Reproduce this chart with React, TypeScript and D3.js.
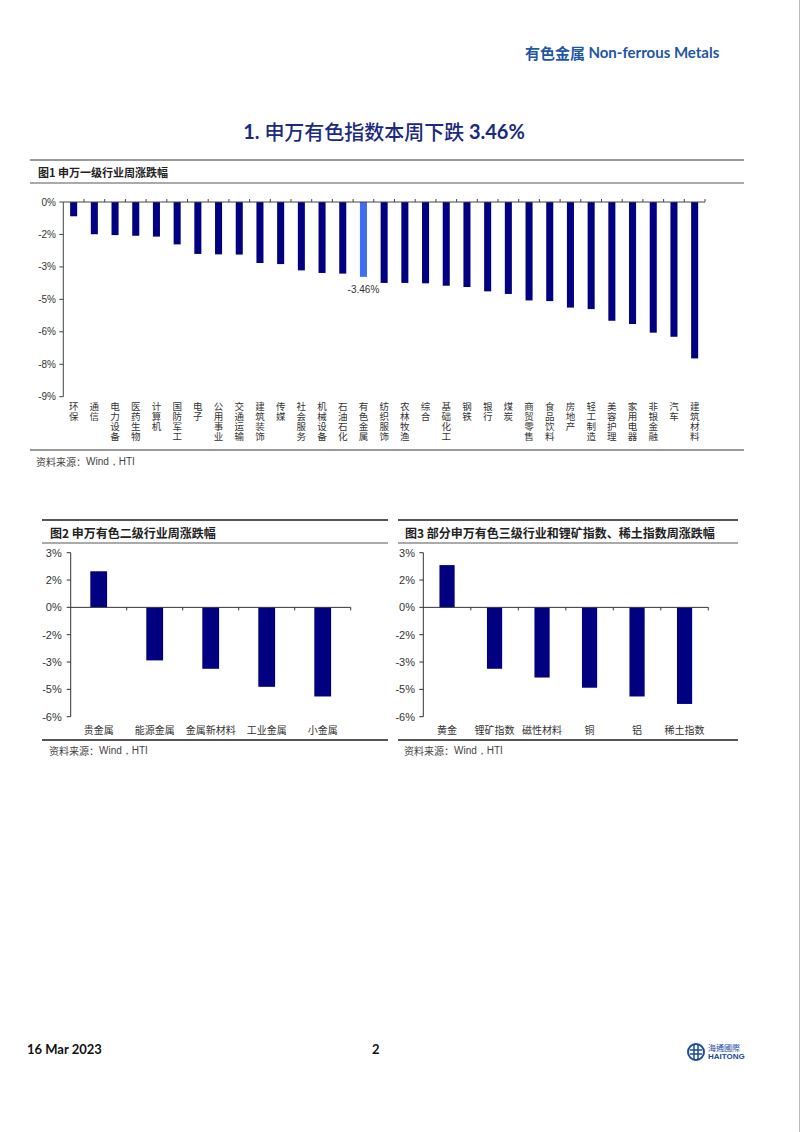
import React from "react";
import * as d3 from "d3";

// ---------- data ----------
const categories1 = ["环保","通信","电力设备","医药生物","计算机","国防军工","电子","公用事业","交通运输","建筑装饰","传媒","社会服务","机械设备","石油石化","有色金属","纺织服饰","农林牧渔","综合","基础化工","钢铁","银行","煤炭","商贸零售","食品饮料","房地产","轻工制造","美容护理","家用电器","非银金融","汽车","建筑材料"];
const values1 = [-0.66,-1.49,-1.53,-1.56,-1.6,-1.96,-2.4,-2.42,-2.43,-2.82,-2.87,-3.16,-3.28,-3.31,-3.46,-3.74,-3.74,-3.76,-3.87,-3.93,-4.13,-4.25,-4.55,-4.58,-4.88,-4.95,-5.49,-5.64,-6.04,-6.23,-7.23];
const highlight1 = "有色金属";
const highlightLabel1 = "-3.46%";
const ticks1 = [0,-1.5,-3,-4.5,-6,-7.5,-9];
const tickLabels1 = ["0%","-2%","-3%","-5%","-6%","-8%","-9%"];

const categories2 = ["贵金属","能源金属","金属新材料","工业金属","小金属"];
const values2 = [1.98,-2.91,-3.37,-4.36,-4.89];
const categories3 = ["黄金","锂矿指数","磁性材料","铜","铝","稀土指数"];
const values3 = [2.32,-3.37,-3.85,-4.41,-4.89,-5.3];
const ticks23 = [3,1.5,0,-1.5,-3,-4.5,-6];
const tickLabels23 = ["3%","2%","0%","-2%","-3%","-5%","-6%"];

const NAVY = "#000080";
const HL = "#3E6FF2";
const CJK = "'Noto Sans CJK SC', 'Noto Sans', sans-serif";
const LAT = "'Liberation Sans', Arial, sans-serif";

function SmallBar(props: {
  cats: string[]; vals: number[]; x0: number; x1: number; yTop: number; yBot: number;
  pad: number; labelRight: number; title: string; lineX0: number; lineX1: number; titleX: number;
}) {
  const { cats, vals, x0, x1, yTop, yBot, pad, labelRight, title, lineX0, lineX1, titleX } = props;
  const x = d3.scaleBand<string>().domain(cats).range([x0, x1]).paddingInner(pad).paddingOuter(pad / 2);
  const y = d3.scaleLinear().domain([-6, 3]).range([yBot, yTop]);
  const step = x.step();
  return (
    <g>
      <line x1={lineX0} x2={lineX1} y1={520} y2={520} stroke="#555" strokeWidth={2} />
      <text x={titleX} y={532} dominantBaseline="central" fontFamily={CJK} fontWeight={700} fontSize={12} fill="#222">{title}</text>
      <line x1={lineX0} x2={lineX1} y1={543} y2={543} stroke="#aaa" strokeWidth={2} />
      <line x1={x0} x2={x0} y1={yTop} y2={yBot} stroke="#333" strokeWidth={1} />
      {ticks23.map((t, i) => (
        <g key={i}>
          <line x1={x0 - 4} x2={x0} y1={y(t)} y2={y(t)} stroke="#333" />
          <text x={labelRight} y={y(t)} dominantBaseline="central" textAnchor="end" fontFamily={LAT} fontSize={11} fill="#333">{tickLabels23[i]}</text>
        </g>
      ))}
      {cats.map((c, i) => {
        const v = vals[i];
        return (
          <rect key={c} x={x(c)!} width={x.bandwidth()} y={Math.min(y(v), y(0))} height={Math.abs(y(v) - y(0))} fill={NAVY} />
        );
      })}
      <line x1={x0} x2={x1} y1={y(0)} y2={y(0)} stroke="#333" strokeWidth={1} />
      {cats.map((c, i) => (
        <line key={"t" + i} x1={x0 + step * (i + 1)} x2={x0 + step * (i + 1)} y1={y(0)} y2={y(0) + 3} stroke="#333" />
      ))}
      {cats.map((c) => (
        <text key={"l" + c} x={x(c)! + x.bandwidth() / 2} y={729} textAnchor="middle" dominantBaseline="central" fontFamily={CJK} fontSize={10} fill="#333">{c}</text>
      ))}
      <line x1={lineX0} x2={lineX1} y1={740} y2={740} stroke="#555" strokeWidth={2} />
      <text x={titleX - 1} y={750} dominantBaseline="central" fontSize={10} fill="#444">
        <tspan fontFamily={CJK}>资料来源：</tspan><tspan fontFamily={LAT}>Wind，HTI</tspan>
      </text>
    </g>
  );
}

export default function App() {
  const W = 802, H = 1132;
  const x1 = d3.scaleBand<string>().domain(categories1).range([63.3, 705]).paddingInner(0.66).paddingOuter(0.33);
  const y1 = d3.scaleLinear().domain([-9, 0]).range([396.7, 202]);
  const step1 = x1.step();
  return (
    <div style={{ position: "absolute", left: 0, top: 0 }}>
      <svg width={W} height={H} style={{ display: "block", background: "#fff" }}>
        <rect x={0} y={0} width={W} height={H} fill="#fff" />
        <line x1={799.5} x2={799.5} y1={0} y2={H} stroke="#bbb" strokeWidth={1} />
        {/* header */}
        <text x={525} y={52} dominantBaseline="central" fill="#1F56A5" fontSize={15} fontWeight={700}>
          <tspan fontFamily={CJK}>有色金属 </tspan><tspan fontFamily="Lato, 'Open Sans', sans-serif">Non-ferrous Metals</tspan>
        </text>
        {/* title */}
        <text x={384} y={131} dominantBaseline="central" textAnchor="middle" fill="#1B2A80" fontSize={20} fontWeight={700}>
          <tspan fontFamily="Lato, sans-serif">1.  </tspan><tspan fontFamily={CJK} fontWeight={500}>申万有色指数本周下跌 </tspan><tspan fontFamily="Lato, sans-serif">3.46%</tspan>
        </text>
        {/* figure 1 */}
        <line x1={30} x2={744} y1={160} y2={160} stroke="#999" strokeWidth={2} />
        <text x={38} y={172} dominantBaseline="central" fontFamily={CJK} fontWeight={700} fontSize={11} fill="#222">图1 申万一级行业周涨跌幅</text>
        <line x1={30} x2={744} y1={183} y2={183} stroke="#aaa" strokeWidth={2} />
        <line x1={63.3} x2={63.3} y1={202} y2={396.7} stroke="#444" />
        {ticks1.map((t, i) => (
          <g key={i}>
            <line x1={59.3} x2={63.3} y1={y1(t)} y2={y1(t)} stroke="#444" />
            <text x={56} y={y1(t)} textAnchor="end" dominantBaseline="central" fontFamily={LAT} fontSize={10} fill="#333">{tickLabels1[i]}</text>
          </g>
        ))}
        {categories1.map((c, i) => (
          <rect key={c} x={x1(c)!} width={x1.bandwidth()} y={y1(0)} height={y1(values1[i]) - y1(0)} fill={c === highlight1 ? HL : NAVY} />
        ))}
        <line x1={63.3} x2={705} y1={y1(0)} y2={y1(0)} stroke="#444" />
        {categories1.map((c, i) => (
          <line key={"t" + i} x1={63.3 + step1 * (i + 1)} x2={63.3 + step1 * (i + 1)} y1={y1(0) - 3} y2={y1(0)} stroke="#444" />
        ))}
        {categories1.map((c) => (
          <text key={"l" + c} x={x1(c)! + x1.bandwidth() / 2} y={402}
            style={{ writingMode: "vertical-rl", textOrientation: "upright" } as any}
            fontFamily={CJK} fontSize={9.5} letterSpacing={0.5} fill="#333">{c}</text>
        ))}
        <text x={x1(highlight1)! + x1.bandwidth() / 2} y={y1(values1[categories1.indexOf(highlight1)]) + 13} textAnchor="middle" dominantBaseline="central" fontFamily={LAT} fontSize={10} fill="#333">{highlightLabel1}</text>
        <line x1={30} x2={744} y1={450} y2={450} stroke="#999" strokeWidth={2} />
        <text x={36} y={461} dominantBaseline="central" fontSize={10} fill="#444">
          <tspan fontFamily={CJK}>资料来源：</tspan><tspan fontFamily={LAT}>Wind，HTI</tspan>
        </text>
        {/* figure 2 */}
        <SmallBar cats={categories2} vals={values2} x0={70.7} x1={350.7} yTop={552.7} yBot={716.7} pad={0.7}
          labelRight={61.7} title="图2  申万有色二级行业周涨跌幅" lineX0={42} lineX1={388} titleX={50} />
        {/* figure 3 */}
        <SmallBar cats={categories3} vals={values3} x0={423.3} x1={708.3} yTop={552.7} yBot={716.7} pad={0.68}
          labelRight={415} title="图3  部分申万有色三级行业和锂矿指数、稀土指数周涨跌幅" lineX0={398} lineX1={738} titleX={405} />
        {/* footer */}
        <text x={27} y={1049} dominantBaseline="central" fontFamily="Lato, sans-serif" fontWeight={700} fontSize={13} fill="#111">16 Mar 2023</text>
        <text x={372} y={1049} dominantBaseline="central" fontFamily="Lato, sans-serif" fontWeight={700} fontSize={13} fill="#111">2</text>
        <g>
          <circle cx={696} cy={1052} r={8} fill="none" stroke="#1A4A9A" strokeWidth={2} />
          <line x1={690} x2={702} y1={1050} y2={1050} stroke="#1A4A9A" strokeWidth={1.5} />
          <line x1={690} x2={702} y1={1054} y2={1054} stroke="#1A4A9A" strokeWidth={1.5} />
          <line x1={694} x2={694} y1={1045} y2={1059} stroke="#1A4A9A" strokeWidth={1.5} />
          <line x1={698} x2={698} y1={1045} y2={1059} stroke="#1A4A9A" strokeWidth={1.5} />
          <text x={708} y={1047.5} dominantBaseline="central" fontFamily="'Noto Sans CJK TC', sans-serif" fontSize={8} fill="#1A4A9A">海通國際</text>
          <text x={708} y={1056.5} dominantBaseline="central" fontFamily={LAT} fontWeight={700} fontSize={8} fill="#1A4A9A">HAITONG</text>
        </g>
      </svg>
    </div>
  );
}
